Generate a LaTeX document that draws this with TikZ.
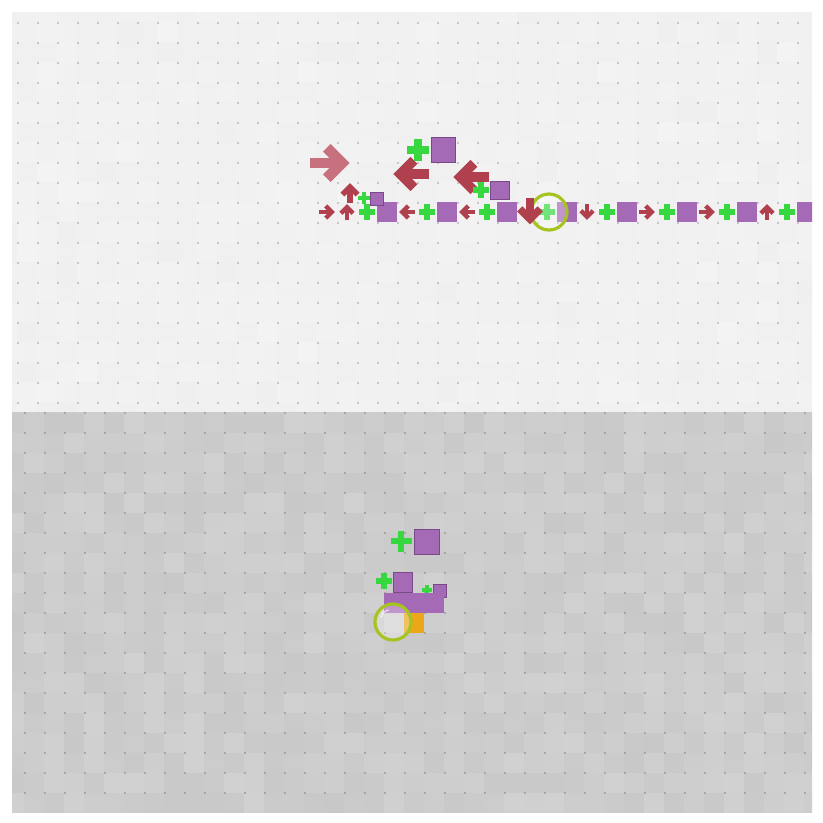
\documentclass[tikz,border=0pt]{standalone}
\usepackage{xcolor}
\usepackage{tikz}
\usetikzlibrary{calc}
\definecolor{arrowred}{HTML}{B1404F}
\definecolor{fadedred}{HTML}{C7707E}
\definecolor{plusgreen}{HTML}{36D73F}
\definecolor{boxpurple}{HTML}{A56AB5}
\definecolor{boxedge}{HTML}{7A4A88}
\definecolor{ringgreen}{HTML}{A6C421}
\definecolor{crateorange}{HTML}{EBA61A}
\definecolor{dotgray}{HTML}{9A9A9A}

\begin{document}
\begin{tikzpicture}[
  x=1pt, y=-1pt,
  box/.style={fill=boxpurple},
  edgebox/.style={fill=boxpurple, draw=boxedge, line width=0.8pt},
  ring/.style={draw=ringgreen, line width=3.2pt, fill=white, fill opacity=0.3},
  pics/arw/.style={code={
    \draw[line width=0.27*#1pt] (-0.5*#1,0)--(0.3*#1,0);
    \draw[line width=0.27*#1pt, miter limit=10] (-0.08*#1,-0.38*#1)--(0.3*#1,0)--(-0.08*#1,0.38*#1);
  }},
  pics/plusg/.style={code={
    \fill[plusgreen] (-0.5*#1,-0.16*#1) rectangle (0.5*#1,0.16*#1);
    \fill[plusgreen] (-0.16*#1,-0.5*#1) rectangle (0.16*#1,0.5*#1);
  }}]
\useasboundingbox (0,0) rectangle (823,823);
\fill[white] (0,0) rectangle (823,823);

% upper floor
\pgfmathsetseed{17}
\begin{scope}
\clip (12,12) rectangle (812,412);
\fill[black!5.5] (12,12) rectangle (812,412);
\foreach \i in {0,...,40}
 {
  \foreach \j in {0,...,20}
   {
    \pgfmathsetmacro\g{4.9+1.2*rnd}
    \fill[black!\g] (-3+20*\i,2+20*\j) rectangle ++(20,20);
   }
 }
\foreach \i in {0,...,39}
 \foreach \j in {0,...,19}
  \fill[dotgray] (18+20*\i,23+20*\j) circle (0.9);
\end{scope}

% lower floor
\begin{scope}
\clip (12,412) rectangle (812,812);
\foreach \i in {0,...,40}
 {
  \foreach \j in {0,...,19}
   {
    \pgfmathsetmacro\g{18+3.5*rnd}
    \fill[black!\g] (4+20*\i,413+20*\j) rectangle ++(20,20);
   }
 }
\fill[black!20] (12,412) rectangle (812,413);
\foreach \i in {0,...,39}
 \foreach \j in {0,...,19}
  \fill[dotgray!85!black] (25+20*\i,413+20*\j) circle (0.9);
\end{scope}

% main row
\begin{scope}
\clip (12,12) rectangle (812,412);
\foreach \px in {387,447,507,567,627,687,747,807}
 {
  \pic at (\px-20,212) {plusg=16};
  \fill[box] (\px-10,202) rectangle ++(20,20);
 }
\draw[ring] (549,212) circle (18);
\draw[white, line width=1.5pt, opacity=0.6] (549,212) ++(200:13) arc (200:250:13);
\pic[arrowred] at (327,212) {arw=16};
\pic[arrowred, rotate=90] at (347,212) {arw=16};
\foreach \px/\rot in {407/180,467/180,587/-90,647/0,707/0,767/90}
  \pic[arrowred, rotate=\rot] at (\px,212) {arw=16};
\pic[arrowred, rotate=-90] at (530,211) {arw=27};

% floating above the row
\pic[fadedred] at (330,163) {arw=40};
\pic[arrowred, rotate=90] at (350,193) {arw=20};
\pic at (364,198) {plusg=12};
\draw[edgebox] (370,192) rectangle (383,205);
\pic[arrowred, rotate=180] at (411,174) {arw=36};
\pic at (418,150) {plusg=22};
\draw[edgebox] (431,137) rectangle (455,162);
\pic[arrowred, rotate=180] at (471,177) {arw=36};
\pic at (481,190) {plusg=16};
\draw[edgebox] (490,181) rectangle (509,199);
\end{scope}

% lower cluster
\pic at (401,541) {plusg=21};
\draw[edgebox] (414,529) rectangle (439,554);
\pic at (384,581) {plusg=16};
\draw[edgebox] (393,572) rectangle (412,592);
\pic at (427,590) {plusg=10};
\draw[edgebox] (433,584) rectangle (446,597);
\fill[box] (384,593) rectangle (444,613);
\fill[crateorange] (404,613) rectangle (424,633);
\draw[ring] (393,622) circle (18);
\draw[white, line width=1.5pt, opacity=0.6] (393,622) ++(200:13) arc (200:250:13);
\end{tikzpicture}
\end{document}
